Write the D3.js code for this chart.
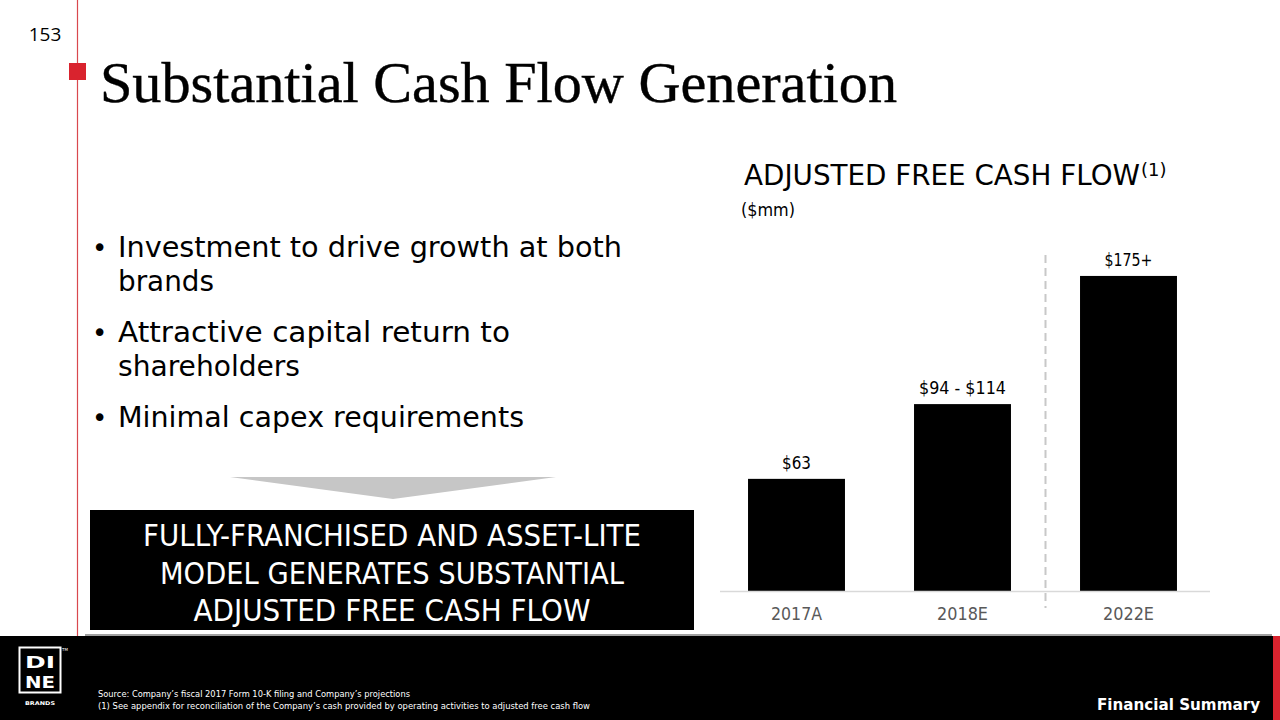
<!DOCTYPE html>
<html>
<head>
<meta charset="utf-8">
<script src="https://cdn.jsdelivr.net/npm/d3@7"></script>
<style>
  html, body { margin: 0; padding: 0; background: #fff; }
  svg { display: block; }
</style>
</head>
<body>
<div id="chart"></div>
<script>
// ---- data ----
const categories = ["2017A", "2018E", "2022E"];
const values = [63, 105, 177];            // bar heights ($mm)
const valueLabels = ["$63", "$94 - $114", "$175+"];
const bullets = [
  ["Investment to drive growth at both", "brands"],
  ["Attractive capital return to", "shareholders"],
  ["Minimal capex requirements"]
];
const boxLines = ["FULLY-FRANCHISED AND ASSET-LITE", "MODEL GENERATES SUBSTANTIAL", "ADJUSTED FREE CASH FLOW"];
const footnotes = [
  "Source: Company\u2019s fiscal 2017 Form 10-K filing and Company\u2019s projections",
  "(1) See appendix for reconciliation of the Company\u2019s cash provided by operating activities to adjusted free cash flow"
];

const W = 1280, H = 720;
const SANS = "'DejaVu Sans', Verdana, sans-serif";
const svg = d3.select("#chart").append("svg").attr("width", W).attr("height", H);

function fitText(sel, w) {
  sel.attr("textLength", w).attr("lengthAdjust", "spacingAndGlyphs");
  return sel;
}

// ---- slide chrome ----
svg.append("line").attr("x1", 77.5).attr("x2", 77.5).attr("y1", 0).attr("y2", 637)
  .attr("stroke", "#d9484e").attr("stroke-width", 1.2);
svg.append("rect").attr("x", 69).attr("y", 63).attr("width", 17).attr("height", 17).attr("fill", "#d9232e");
svg.append("text").attr("x", 45).attr("y", 41).attr("text-anchor", "middle")
  .attr("font-family", "'Open Sans', sans-serif").attr("font-size", 19).attr("fill", "#000").text("153");
fitText(svg.append("text").attr("x", 100).attr("y", 102)
  .attr("font-family", "'Liberation Serif', 'Times New Roman', serif").attr("font-size", 57)
  .attr("stroke", "#000").attr("stroke-width", 0.4)
  .attr("fill", "#000").text("Substantial Cash Flow Generation"), 797);

// ---- bullets ----
const bulletTop = [257, 342, 427];
const bulletW = {"Investment to drive growth at both": 504, "brands": 96, "Attractive capital return to": 392,
  "shareholders": 182, "Minimal capex requirements": 406};
bullets.forEach((lines, i) => {
  svg.append("text").attr("x", 92).attr("y", bulletTop[i]).attr("font-family", SANS)
    .attr("font-size", 26).attr("fill", "#000").text("\u2022");
  lines.forEach((t, j) => {
    fitText(svg.append("text").attr("x", 118).attr("y", bulletTop[i] + j * 34)
      .attr("font-family", SANS).attr("font-size", 28).attr("fill", "#000").text(t), bulletW[t]);
  });
});

// ---- arrow + box ----
svg.append("path").attr("d", "M230,477 L556,477 L393,499 Z").attr("fill", "#c6c6c6");
svg.append("rect").attr("x", 90).attr("y", 510).attr("width", 604).attr("height", 120).attr("fill", "#000");
const boxW = [498, 464, 397];
boxLines.forEach((t, i) => {
  fitText(svg.append("text").attr("x", 392).attr("y", 546 + i * 37.5).attr("text-anchor", "middle")
    .attr("font-family", SANS).attr("font-size", 30).attr("fill", "#fff").text(t), boxW[i]);
});

// ---- chart ----
fitText(svg.append("text").attr("x", 744).attr("y", 185)
  .attr("font-family", SANS).attr("font-size", 28).attr("fill", "#000").text("ADJUSTED FREE CASH FLOW"), 396);
svg.append("text").attr("x", 1141).attr("y", 176).attr("font-family", SANS).attr("font-size", 18)
  .attr("fill", "#000").text("(1)");
fitText(svg.append("text").attr("x", 741).attr("y", 216).attr("font-family", SANS).attr("font-size", 17)
  .attr("fill", "#000").text("($mm)"), 54);

const x = d3.scaleBand().domain(categories).range([713.5, 1211.5]).paddingInner(0.416).paddingOuter(0.208);
const y = d3.scaleLinear().domain([0, 200]).range([591, 591 - 200 * 1.78]);

svg.append("g").selectAll("rect").data(categories).join("rect")
  .attr("x", d => x(d)).attr("width", x.bandwidth())
  .attr("y", (d, i) => y(values[i])).attr("height", (d, i) => y(0) - y(values[i]))
  .attr("fill", "#000");

const labelW = [29, 87, 48];
svg.append("g").selectAll("text").data(categories).join("text")
  .attr("x", d => x(d) + x.bandwidth() / 2).attr("y", (d, i) => y(values[i]) - 10)
  .attr("text-anchor", "middle").attr("font-family", SANS).attr("font-size", 17).attr("fill", "#000")
  .attr("textLength", (d, i) => labelW[i]).attr("lengthAdjust", "spacingAndGlyphs")
  .text((d, i) => valueLabels[i]);

// axis
const axis = svg.append("g").attr("transform", "translate(0,591)")
  .call(d3.axisBottom(x).tickSize(0).tickPadding(17));
axis.select(".domain").attr("stroke", "#d9d9d9").attr("stroke-width", 1.5).attr("d", "M720,0.5H1210");
axis.selectAll("text").attr("font-family", SANS).attr("font-size", 17).attr("fill", "#595959")
  .attr("dy", "0.71em").attr("y", 17).attr("textLength", 51).attr("lengthAdjust", "spacingAndGlyphs");

// dashed separator
const sepX = (x("2018E") + x.bandwidth() + x("2022E")) / 2;
svg.append("line").attr("x1", sepX).attr("x2", sepX).attr("y1", 255).attr("y2", 608)
  .attr("stroke", "#c8c8c8").attr("stroke-width", 2).attr("stroke-dasharray", "8,5");

// ---- footer ----
svg.append("line").attr("x1", 85).attr("x2", 1272).attr("y1", 635).attr("y2", 635)
  .attr("stroke", "#808080").attr("stroke-width", 1.5);
svg.append("rect").attr("x", 0).attr("y", 636).attr("width", W).attr("height", 84).attr("fill", "#000");
svg.append("rect").attr("x", 1273).attr("y", 636).attr("width", 7).attr("height", 84).attr("fill", "#d9232e");

// logo
svg.append("rect").attr("x", 19.5).attr("y", 647.5).attr("width", 41).attr("height", 45)
  .attr("fill", "none").attr("stroke", "#fff").attr("stroke-width", 2);
fitText(svg.append("text").attr("x", 40).attr("y", 668).attr("text-anchor", "middle").attr("font-family", SANS)
  .attr("font-weight", "bold").attr("font-size", 16).attr("fill", "#fff").text("DI"), 30);
fitText(svg.append("text").attr("x", 40).attr("y", 688).attr("text-anchor", "middle").attr("font-family", SANS)
  .attr("font-weight", "bold").attr("font-size", 16).attr("fill", "#fff").text("NE"), 30);
fitText(svg.append("text").attr("x", 40).attr("y", 705).attr("text-anchor", "middle").attr("font-family", SANS)
  .attr("font-weight", "bold").attr("font-size", 5).attr("fill", "#fff").text("BRANDS"), 30);
svg.append("text").attr("x", 62).attr("y", 651).attr("font-family", SANS).attr("font-size", 4)
  .attr("fill", "#fff").text("TM");

const footW = [312, 492];
footnotes.forEach((t, i) => {
  fitText(svg.append("text").attr("x", 98).attr("y", 697 + i * 12).attr("font-family", SANS)
    .attr("font-size", 9.5).attr("fill", "#fff").text(t), footW[i]);
});
fitText(svg.append("text").attr("x", 1097).attr("y", 710).attr("font-family", SANS).attr("font-weight", "bold")
  .attr("font-size", 16).attr("fill", "#fff").text("Financial Summary"), 163);
</script>
</body>
</html>
